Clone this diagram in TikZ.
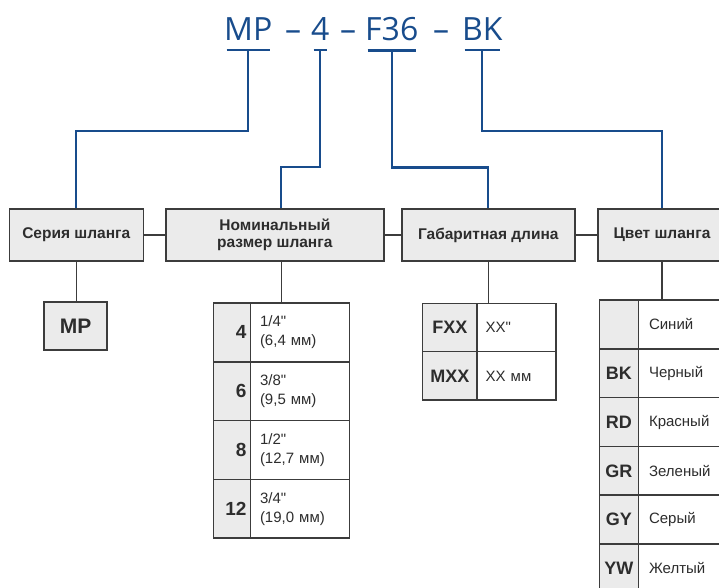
\documentclass[tikz,border=0pt]{standalone}
\usepackage{fontspec}
\setmainfont{Liberation Sans}[Ligatures=TeXOff]
\newfontfamily\titlefont{Open Sans}
\usepackage{xcolor}
\usetikzlibrary{positioning}
\definecolor{codeblue}{RGB}{24,76,140}
\definecolor{boxgray}{RGB}{235,235,235}
\definecolor{linegray}{RGB}{60,60,60}
\definecolor{textgray}{RGB}{45,45,45}
\tikzstyle{codepart} = [inner sep=0pt, 
anchor=base west, 
text=codeblue, 
font=\titlefont\fontsize{32}{36}\selectfont]
\tikzstyle{headbox} = [rectangle, 
draw=linegray, fill=boxgray, line width=1.5pt, 
minimum height=52pt, 
text=textgray, align=center, 
font=\bfseries\fontsize{15.5}{17.5}\selectfont]
\tikzstyle{keycell} = [rectangle, 
draw=linegray, fill=boxgray, line width=1.5pt, 
inner sep=0pt, outer sep=0pt, text=textgray, 
font=\bfseries\fontsize{18}{20}\selectfont]
\tikzstyle{valcell} = [rectangle, 
draw=linegray, fill=white, line width=1.5pt, 
inner sep=0pt, outer sep=0pt, text=textgray, align=left, 
font=\fontsize{15}{19}\selectfont]
\tikzstyle{sizekey} = [keycell, minimum width=37.4pt, minimum height=58.8pt, 
text width=29pt, align=right, font=\bfseries\fontsize{19}{21}\selectfont]
\tikzstyle{sizeval} = [valcell, minimum width=98.6pt, minimum height=58.8pt, text width=80pt]
\tikzstyle{lenkey} = [keycell, minimum width=54.3pt, minimum height=48.4pt]
\tikzstyle{lenval} = [valcell, minimum width=79pt, minimum height=48.4pt, text width=61.6pt]
\tikzstyle{colkey} = [keycell, minimum width=39pt, minimum height=48.8pt]
\tikzstyle{colval} = [valcell, minimum width=90pt, minimum height=48.8pt, text width=68.6pt]
\tikzstyle{codeline} = [draw=codeblue, line width=2.2pt]
\tikzstyle{boxline} = [draw=linegray, line width=1.5pt]

\begin{document}
\begin{tikzpicture}[x=1pt, y=-1pt]
        \useasboundingbox (0,0) rectangle (719,587);
        \clip (0,0) rectangle (719,587);

        % --- Code ---
        \node (pMP) [codepart] at (224,40) {MP};
        \node (d1) [codepart] at (285,40) {–};
        \node (pFour) [codepart] at (311,40) {4};
        \node (d2) [codepart] at (340,40) {–};
        \node (pLen) [codepart] at (365,40) {F36};
        \node (d3) [codepart] at (433,40) {–};
        \node (pCol) [codepart] at (462,40) {BK};

        % --- Header boxes ---
        \node (ser) [headbox, minimum width=134pt] at (76.3,235) {Серия шланга};
        \node (nom) [headbox, minimum width=218pt] at (274.8,235) {Номинальный\\размер шланга};
        \node (gab) [headbox, minimum width=173pt] at (488.3,235) {Габаритная длина};
        \node (cvet) [headbox, minimum width=128pt] at (662,235) {Цвет шланга};

        % --- Series ---
        \node (mp) [keycell, minimum width=63pt, minimum height=48pt, 
            font=\bfseries\fontsize{21}{24}\selectfont] at (75.7,326) {MP};

        % --- Size table ---
        \coordinate (sztop) at (281.3,303);
        \node (s4) [sizekey, anchor=north west] at (213.3,303) {4};
        \node (v4) [sizeval, right=0pt of s4] {1/4"\\(6,4 мм)};
        \node (s6) [sizekey, below=0pt of s4] {6};
        \node (v6) [sizeval, right=0pt of s6] {3/8"\\(9,5 мм)};
        \node (s8) [sizekey, below=0pt of s6] {8};
        \node (v8) [sizeval, right=0pt of s8] {1/2"\\(12,7 мм)};
        \node (s12) [sizekey, below=0pt of s8] {12};
        \node (v12) [sizeval, right=0pt of s12] {3/4"\\(19,0 мм)};

        % --- Length table ---
        \node (fxx) [lenkey, anchor=north west] at (422.7,303.3) {FXX};
        \node (fv) [lenval, right=0pt of fxx] {XX"};
        \node (mxx) [lenkey, below=0pt of fxx] {MXX};
        \node (mv) [lenval, right=0pt of mxx] {XX мм};

        % --- Colour table ---
        \node (cbl) [colkey, anchor=north west] at (599.3,300) {};
        \node (vbl) [colval, right=0pt of cbl] {Синий};
        \node (cbk) [colkey, below=0pt of cbl] {BK};
        \node (vbk) [colval, right=0pt of cbk] {Черный};
        \node (crd) [colkey, below=0pt of cbk] {RD};
        \node (vrd) [colval, right=0pt of crd] {Красный};
        \node (cgr) [colkey, below=0pt of crd] {GR};
        \node (vgr) [colval, right=0pt of cgr] {Зеленый};
        \node (cgy) [colkey, below=0pt of cgr] {GY};
        \node (vgy) [colval, right=0pt of cgy] {Серый};
        \node (cyw) [colkey, below=0pt of cgy] {YW};
        \node (vyw) [colval, right=0pt of cyw] {Желтый};

        % --- Code lines ---
        \foreach \p in {pMP,pFour,pLen,pCol}
            \draw [codeline] ([shift={(2.5pt,-10pt)}]\p.south west) -- ([shift={(-2.5pt,-10pt)}]\p.south east);
        \draw [codeline] ([yshift=-10pt]pMP.south) -- ++(0,81) -| (ser.north);
        \draw [codeline] ([yshift=-10pt]pFour.south) -- ++(0,117) -| (nom.north -| sztop);
        \draw [codeline] ([yshift=-10pt]pLen.south) -- ++(0,117) -| (gab.north);
        \draw [codeline] ([yshift=-10pt]pCol.south) -- ++(0,81) -| (cvet.north);

        % --- Box connections ---
        \draw [boxline] (ser) -- (nom);
        \draw [boxline] (nom) -- (gab);
        \draw [boxline] (gab) -- (cvet);
        \draw [boxline] (ser.south) -- (ser.south |- mp.north);
        \draw [boxline] (nom.south -| sztop) -- (sztop);
        \draw [boxline] (gab.south) -- (gab.south |- fxx.north);
        \draw [boxline] (cvet.south) -- (cvet.south |- cbl.north);

    \end{tikzpicture}
\end{document}
